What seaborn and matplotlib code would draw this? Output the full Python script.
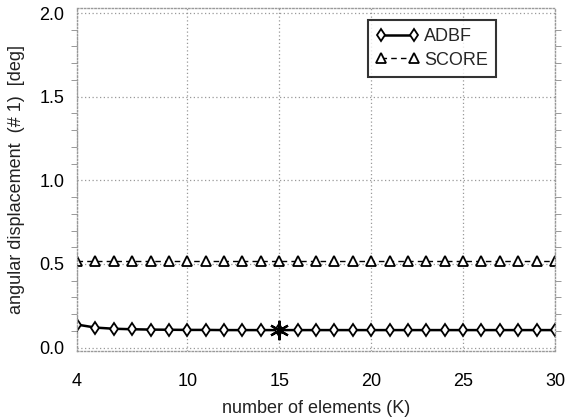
import numpy as np
import pandas as pd
import matplotlib
matplotlib.use("Agg")
import matplotlib.pyplot as plt
import seaborn as sns
from matplotlib.ticker import MultipleLocator

K = list(range(4, 31))
adbf = [0.138, 0.120, 0.113, 0.110, 0.108, 0.107, 0.106, 0.106, 0.105, 0.105, 0.105,
        0.105, 0.105, 0.105, 0.105, 0.105, 0.105, 0.105, 0.105, 0.105, 0.105,
        0.105, 0.105, 0.105, 0.105, 0.105, 0.105]
score = [0.52] * len(K)
best_k = 15
xticks = [4, 10, 15, 20, 25, 30]
yticks = [0.0, 0.5, 1.0, 1.5, 2.0]

sns.set_theme(style="white")
plt.rcParams['font.family'] = ['Liberation Sans', 'DejaVu Sans']

df = pd.DataFrame({"K": K, "ADBF": adbf, "SCORE": score})

fig = plt.figure(figsize=(5.65, 4.17), dpi=100)
ax = fig.add_axes([77/565, 1 - 351/417, (555-77)/565, (351-8)/417])

sns.lineplot(data=df, x="K", y="SCORE", ax=ax, color="black", lw=1.0,
             linestyle=(0, (4, 3)), marker="^", markersize=6.5, markerfacecolor="white",
             markeredgecolor="black", markeredgewidth=1.3, label="SCORE")
sns.lineplot(data=df, x="K", y="ADBF", ax=ax, color="black", lw=1.8,
             marker="d", markersize=6, markerfacecolor="white",
             markeredgecolor="black", markeredgewidth=1.3, label="ADBF")
bi = K.index(best_k)
ax.plot([K[bi]], [adbf[bi]], marker=(6, 2, 0), markersize=14, color="black", mew=1.6, ls="none")

ax.set_xlim(4, 30)
ax.set_ylim(-0.02, 2.03)
ax.set_xticks(xticks)
ax.set_yticks(yticks)
ax.set_yticklabels([f"{v:.1f}" for v in yticks])
ax.yaxis.set_minor_locator(MultipleLocator(0.1))
ax.grid(True, which="major", color="#999999", linestyle=(0, (1, 2)), lw=0.9)
ax.tick_params(axis="both", which="major", labelsize=13, colors="black", length=0, pad=9)
ax.tick_params(axis="x", which="major", pad=16)
ax.tick_params(axis="y", which="minor", right=True, left=True, length=4, width=0.6, color="#888888")
ax.tick_params(axis="y", which="major", right=True, left=True, length=0)
for s in ax.spines.values():
    s.set_color("#999999")
    s.set_linestyle((0, (1, 1.5)))
    s.set_linewidth(1.0)

ax.set_xlabel("number of elements (K)", fontsize=13, color="#222222", labelpad=7)
ax.set_ylabel("angular displacement  (# 1)  [deg]", fontsize=13, color="#222222", labelpad=10)

h, l = ax.get_legend_handles_labels()
leg = ax.legend(h[::-1], l[::-1], loc="upper right", bbox_to_anchor=(0.885, 0.975),
                fontsize=13, frameon=True, fancybox=False, handlelength=2.4, numpoints=2,
                borderpad=0.45, labelspacing=0.35, handletextpad=0.3, borderaxespad=0.2)
leg.get_frame().set_edgecolor("black")
leg.get_frame().set_linewidth(1.5)

fig.savefig("out.png", dpi=100)
